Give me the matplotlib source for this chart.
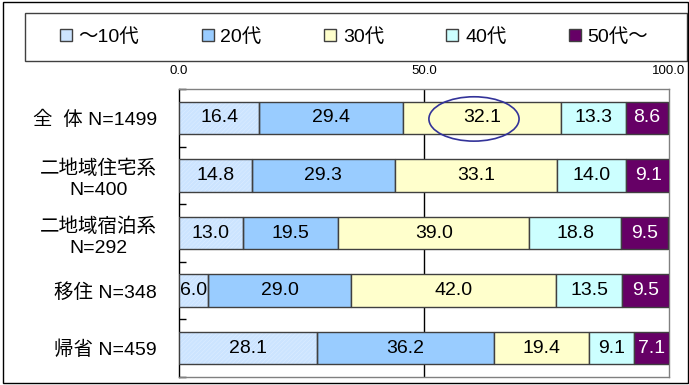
import matplotlib
matplotlib.use("Agg")
import matplotlib.pyplot as plt
from matplotlib.patches import Rectangle, Ellipse
import numpy as np

plt.rcParams['font.family'] = ['Liberation Sans', 'Noto Sans CJK JP', 'DejaVu Sans']
plt.rcParams['hatch.linewidth'] = 0.4

categories = ['全  体 N=1499', '二地域住宅系\nN=400', '二地域宿泊系\nN=292', '移住 N=348', '帰省 N=459']
series_names = ['～10代', '20代', '30代', '40代', '50代～']
teens = [16.4, 14.8, 13.0, 6.0, 28.1]
twenties = [29.4, 29.3, 19.5, 29.0, 36.2]
thirties = [32.1, 33.1, 39.0, 42.0, 19.4]
forties = [13.3, 14.0, 18.8, 13.5, 9.1]
fifties = [8.6, 9.1, 9.5, 9.5, 7.1]
series = [teens, twenties, thirties, forties, fifties]
xticks = [0.0, 50.0, 100.0]

colors = ['#CCE4FF', '#99CCFF', '#FFFFCC', '#CCFFFF', '#660066']
text_colors = ['black', 'black', 'black', 'black', 'white']
edge = '#404040'

fig = plt.figure(figsize=(6.89, 3.85), dpi=100)
ax = fig.add_axes([179/689, 1-377/385, (669-179)/689, (377-89)/385])

y = np.arange(len(categories))
h = 0.56
left = np.zeros(len(categories))
for i, vals in enumerate(series):
    vals = np.array(vals)
    if i == 0:
        ax.barh(y, vals, h, left=left, color=colors[i], hatch='////////',
                edgecolor='#DDEDFF', linewidth=0, zorder=3)
        ax.barh(y, vals, h, left=left, fill=False, edgecolor=edge, linewidth=1, zorder=4)
    else:
        ax.barh(y, vals, h, left=left, color=colors[i], edgecolor=edge, linewidth=1, zorder=3)
    for yy, l, v in zip(y, left, vals):
        ax.text(l + v/2, yy, f'{v:.1f}', ha='center', va='center', fontsize=14,
                color=text_colors[i], zorder=5, family=['Liberation Sans'])
    left = left + vals

ax.set_xlim(0, 100)
ax.set_ylim(4.5, -0.5)
ax.xaxis.tick_top()
ax.set_xticks(xticks)
ax.set_xticklabels([f'{t:.1f}' for t in xticks])
ax.tick_params(axis='x', length=0, pad=9, labelsize=9.5, colors='black')
ax.axvline(50, color='black', lw=1, zorder=1)

ax.set_yticks(y)
ax.set_yticklabels(categories)
ax.set_yticks(np.arange(-0.5, 5.0, 1.0), minor=True)
ax.tick_params(axis='y', which='major', length=0, pad=16, labelsize=14)
ax.tick_params(axis='y', which='minor', direction='in', length=5, width=1, color='black')
for lab in ax.get_yticklabels():
    lab.set_multialignment('center')
    lab.set_linespacing(1.3)

for s in ['top', 'right', 'bottom']:
    ax.spines[s].set_color('#808080')
    ax.spines[s].set_linewidth(1)
ax.spines['left'].set_color('black')
ax.spines['left'].set_linewidth(1)

# highlight ellipse around 30代 of 全体
ax.add_patch(Ellipse((60.2, 0.02), 18.4, 0.77, fill=False, edgecolor='#333399', lw=1.2, zorder=6))

# legend
handles = [Rectangle((0, 0), 1, 1, facecolor=c, edgecolor=edge, lw=1) for c in colors]
fig.legend(handles, series_names, ncol=5, loc='center', bbox_to_anchor=(354/689, 1-37/385),
           frameon=False, fontsize=14, handlelength=0.62, handleheight=0.62,
           handletextpad=0.35, columnspacing=3.2, borderaxespad=0)
fig.patches.append(Rectangle((25/689, 1-61/385), (687-25)/689, 48/385, transform=fig.transFigure,
                             fill=False, edgecolor='#404040', lw=1, zorder=0))
fig.patches.append(Rectangle((3/689, 1-383/385), (688-3)/689, (383-2)/385, transform=fig.transFigure,
                             fill=False, edgecolor='black', lw=1, zorder=0))

fig.savefig('out.png', dpi=100)
